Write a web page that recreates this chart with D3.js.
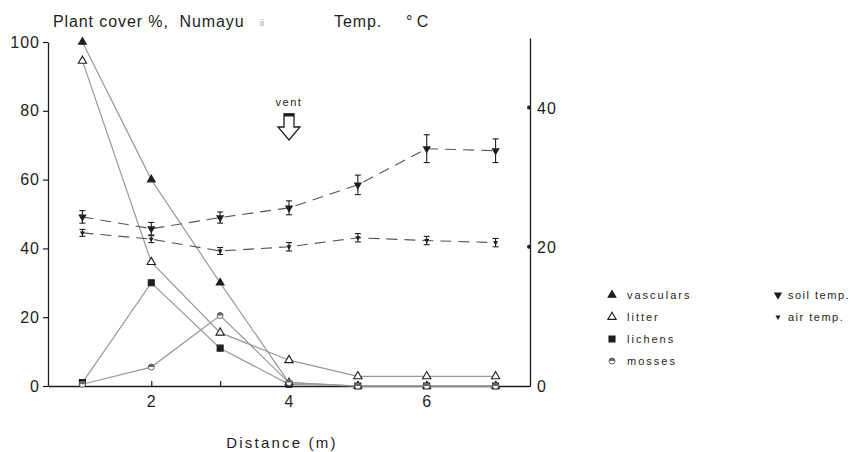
<!DOCTYPE html>
<html>
<head>
<meta charset="utf-8">
<script src="https://cdn.jsdelivr.net/npm/d3@7"></script>
<style>
  body { margin: 0; background: #fff; }
  text { font-family: "Liberation Sans", Arial, sans-serif; white-space: pre; }
</style>
</head>
<body>
<div id="chart"></div>
<script>
  // distance along the transect (m)
  const distance = [1, 2, 3, 4, 5, 6, 7];

  // plant cover %
  const vasculars = [100, 60, 30, 1, 0, 0, 0];
  const litter = [94.5, 36, 15.5, 7.5, 2.8, 2.8, 2.8];
  const lichens = [1, 30, 11, 0.5, 0, 0, 0];
  const mosses = [0.5, 5.5, 20.5, 1, 0, 0, 0];

  // temperatures (deg C) with error
  const soilTemp = [24.3, 22.6, 24.2, 25.6, 28.9, 34.1, 33.8];
  const soilErr = [0.9, 0.9, 0.8, 1.0, 1.4, 2.0, 1.7];
  const airTemp = [22.0, 21.1, 19.4, 20.0, 21.3, 20.9, 20.6];
  const airErr = [0.5, 0.5, 0.5, 0.6, 0.6, 0.6, 0.6];

  const leftTicks = [0, 20, 40, 60, 80, 100];
  const rightTicks = [0, 20, 40];
  const xTicks = [1, 2, 3, 4, 5, 6, 7];

  const svgWidth = 864;
  const svgHeight = 452;

  const svg = d3.select("#chart")
    .append("svg")
    .attr("width", svgWidth)
    .attr("height", svgHeight);

  const xScale = d3.scaleLinear().domain([0.5, 7.5]).range([48, 530]);
  const yScale = d3.scaleLinear().domain([0, 100]).range([386, 42]);
  const tScale = d3.scaleLinear().domain([0, 50]).range([386, 38]);

  const ink = "#1e1e1e";

  // axes
  const bottomAxis = d3.axisBottom(xScale)
    .tickValues(xTicks)
    .tickSize(-5)
    .tickSizeOuter(0)
    .tickPadding(10)
    .tickFormat(d => d % 2 === 0 ? d : "");
  const xAxis = svg.append("g")
    .attr("transform", `translate(0, ${yScale(0)})`)
    .call(bottomAxis);

  const leftAxis = d3.axisLeft(yScale)
    .tickValues(leftTicks)
    .tickSize(5)
    .tickSizeOuter(0)
    .tickPadding(3);
  const yAxis = svg.append("g")
    .attr("transform", `translate(${xScale(0.5)}, 0)`)
    .call(leftAxis);

  const rightAxis = d3.axisRight(tScale)
    .tickValues(rightTicks)
    .tickSize(0)
    .tickSizeOuter(0)
    .tickPadding(7);
  const tAxis = svg.append("g")
    .attr("transform", `translate(${xScale(7.5)}, 0)`)
    .call(rightAxis);

  [xAxis, yAxis, tAxis].forEach(g => {
    g.select(".domain").attr("stroke", ink).attr("stroke-width", 1.3);
    g.selectAll(".tick line").attr("stroke", ink).attr("stroke-width", 1.2);
    g.selectAll(".tick text")
      .style("fill", ink)
      .style("font-size", "16px")
      .style("letter-spacing", "1px");
  });
  tAxis.selectAll(".tick text").attr("dy", "0.35em");

  // dots on the temperature axis
  tAxis.selectAll(".tdot")
    .data(rightTicks.filter(d => d > 0))
    .enter()
    .append("circle")
    .attr("cx", -1)
    .attr("cy", d => tScale(d))
    .attr("r", 2)
    .attr("fill", ink);

  // plant cover lines
  const line = d3.line()
    .x((d, i) => xScale(distance[i]))
    .y(d => yScale(d));

  const coverSeries = [
    { name: "vasculars", values: vasculars, sym: d3.symbolTriangle, fill: ink, size: 26 },
    { name: "litter", values: litter, sym: d3.symbolTriangle, fill: "#fff", size: 30 },
    { name: "lichens", values: lichens, sym: d3.symbolSquare, fill: ink, size: 36 },
    { name: "mosses", values: mosses, sym: null, fill: "#fff", size: 0 }
  ];

  coverSeries.forEach(s => {
    svg.append("path")
      .datum(s.values)
      .attr("d", line)
      .attr("fill", "none")
      .attr("stroke", "#999")
      .attr("stroke-width", 1.2);
  });

  function drawMarker(g, s) {
    if (s.sym) {
      g.append("path")
        .attr("d", d3.symbol().type(s.sym).size(s.size))
        .attr("fill", s.fill)
        .attr("stroke", ink)
        .attr("stroke-width", 1.1);
    } else {
      g.append("circle").attr("r", 3).attr("fill", "#fff").attr("stroke", "#666").attr("stroke-width", 1);
      g.append("path").attr("d", "M-3,0A3,3 0 0 1 3,0Z").attr("fill", "#666");
    }
  }

  coverSeries.forEach(s => {
    svg.append("g").selectAll("g")
      .data(s.values)
      .enter()
      .append("g")
      .attr("transform", (d, i) => `translate(${xScale(distance[i])}, ${yScale(d)})`)
      .each(function() { drawMarker(d3.select(this), s); });
  });

  // temperature lines with error bars
  const tLine = d3.line()
    .x((d, i) => xScale(distance[i]))
    .y(d => tScale(d));

  const tempSeries = [
    { name: "soil temp.", values: soilTemp, err: soilErr, size: 30 },
    { name: "air temp.", values: airTemp, err: airErr, size: 11 }
  ];

  tempSeries.forEach(s => {
    svg.append("path")
      .datum(s.values)
      .attr("d", tLine)
      .attr("fill", "none")
      .attr("stroke", "#555")
      .attr("stroke-width", 1.1)
      .attr("stroke-dasharray", "11,7");

    const pts = svg.append("g").selectAll("g")
      .data(s.values)
      .enter()
      .append("g");

    pts.append("line")
      .attr("x1", (d, i) => xScale(distance[i]))
      .attr("x2", (d, i) => xScale(distance[i]))
      .attr("y1", (d, i) => tScale(d + s.err[i]))
      .attr("y2", (d, i) => tScale(d - s.err[i]))
      .attr("stroke", ink)
      .attr("stroke-width", 1.1);
    [1, -1].forEach(sign => {
      pts.append("line")
        .attr("x1", (d, i) => xScale(distance[i]) - 3)
        .attr("x2", (d, i) => xScale(distance[i]) + 3)
        .attr("y1", (d, i) => tScale(d + sign * s.err[i]))
        .attr("y2", (d, i) => tScale(d + sign * s.err[i]))
        .attr("stroke", ink)
        .attr("stroke-width", 1.1);
    });
    pts.append("path")
      .attr("d", d3.symbol().type(d3.symbolTriangle).size(s.size))
      .attr("transform", (d, i) => `translate(${xScale(distance[i])}, ${tScale(d)}) rotate(180)`)
      .attr("fill", ink);
  });

  // vent arrow at 4 m
  const vx = xScale(4);
  svg.append("text")
    .attr("x", vx)
    .attr("y", 106)
    .attr("text-anchor", "middle")
    .style("fill", ink)
    .style("font-size", "11px")
    .style("letter-spacing", "1.5px")
    .text("vent");
  svg.append("path")
    .attr("d", `M${vx - 5},114 H${vx + 5} V127 H${vx + 11} L${vx},140 L${vx - 11},127 H${vx - 5} Z`)
    .attr("fill", "#fff")
    .attr("stroke", ink)
    .attr("stroke-width", 1.3);
  svg.append("line")
    .attr("x1", vx - 5).attr("x2", vx + 5)
    .attr("y1", 115).attr("y2", 115)
    .attr("stroke", ink).attr("stroke-width", 3);

  // titles
  svg.append("text")
    .attr("x", 53).attr("y", 27)
    .style("fill", ink)
    .style("font-size", "16px")
    .style("letter-spacing", "0.9px")
    .text("Plant cover %,  Numayu");
  svg.append("text")
    .attr("x", 260).attr("y", 26)
    .style("fill", "#999")
    .style("font-size", "9px")
    .text("ii");
  svg.append("text")
    .attr("x", 334).attr("y", 27)
    .style("fill", ink)
    .style("font-size", "16px")
    .style("letter-spacing", "0.9px")
    .text("Temp.");
  svg.append("text")
    .attr("x", 406).attr("y", 27)
    .style("fill", ink)
    .style("font-size", "16px")
    .text("\u00B0 C");

  // x axis label
  svg.append("text")
    .attr("x", 282).attr("y", 448)
    .attr("text-anchor", "middle")
    .style("fill", ink)
    .style("font-size", "15px")
    .style("letter-spacing", "2.2px")
    .text("Distance (m)");

  // legend
  const legend = svg.append("g");
  coverSeries.forEach((s, i) => {
    const g = legend.append("g").attr("transform", `translate(612, ${295 + i * 22})`);
    drawMarker(g, s);
    g.append("text")
      .attr("x", 15).attr("dy", "0.35em")
      .style("fill", ink)
      .style("font-size", "11px")
      .style("letter-spacing", "2px")
      .text(s.name);
  });
  tempSeries.forEach((s, i) => {
    const g = legend.append("g").attr("transform", `translate(778, ${295 + i * 22})`);
    g.append("path")
      .attr("d", d3.symbol().type(d3.symbolTriangle).size(s.size))
      .attr("transform", "rotate(180)")
      .attr("fill", ink);
    g.append("text")
      .attr("x", 10).attr("dy", "0.35em")
      .style("fill", ink)
      .style("font-size", "11px")
      .style("letter-spacing", "1.5px")
      .text(s.name);
  });
</script>
</body>
</html>
